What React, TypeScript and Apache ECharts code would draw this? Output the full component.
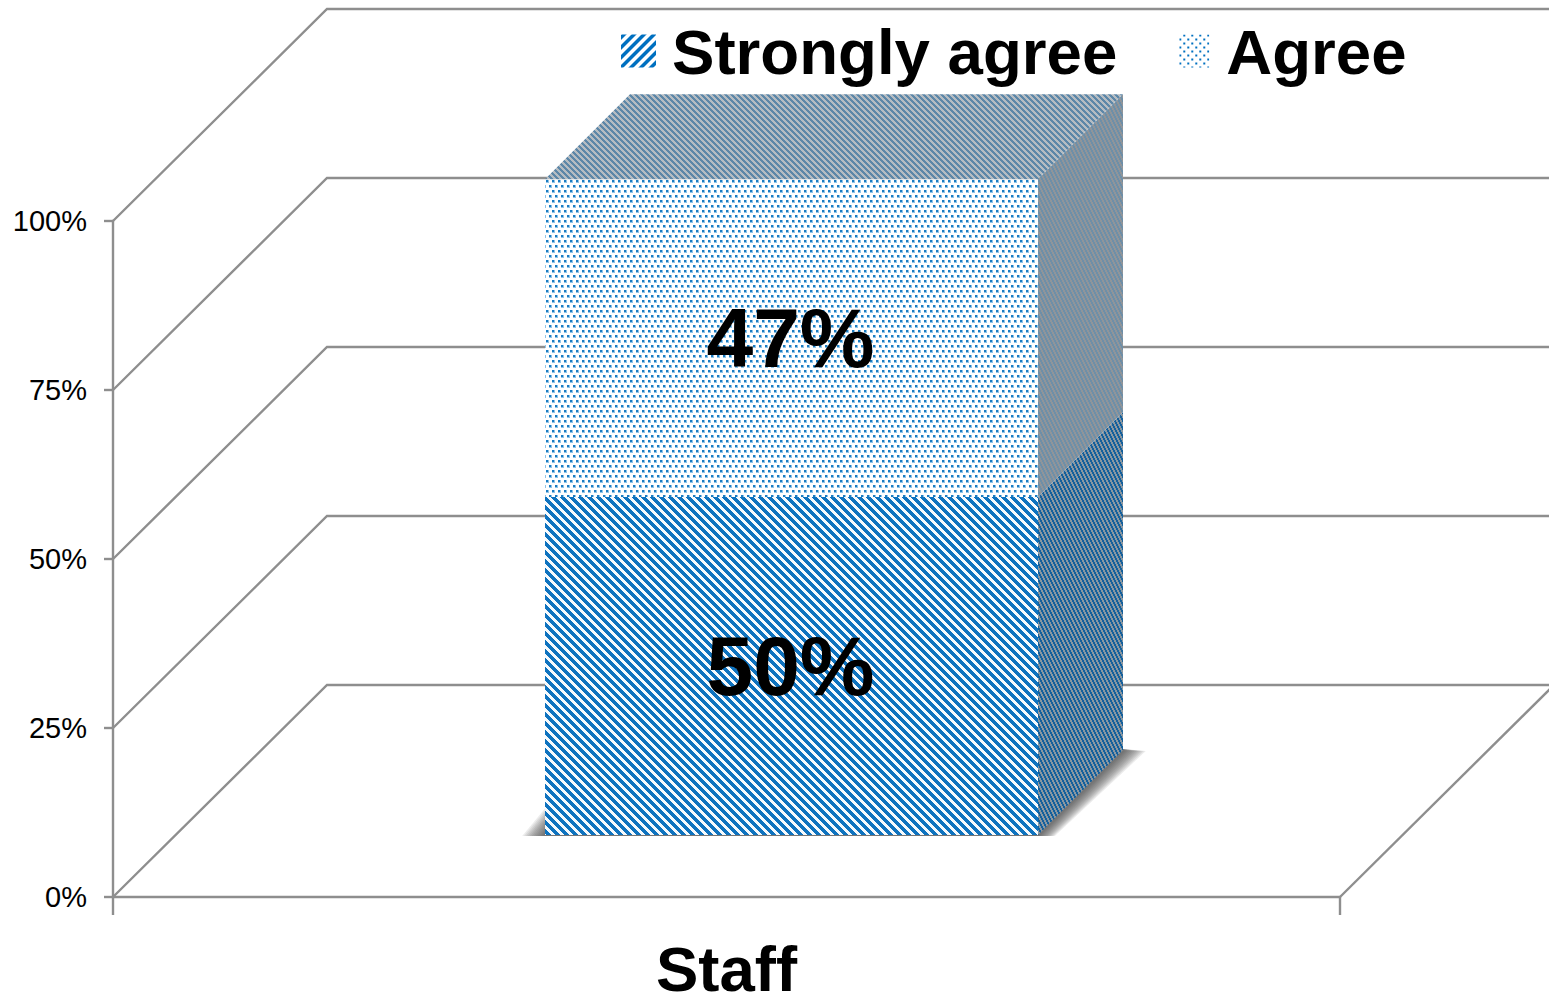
import React, { useEffect, useRef } from "react";
import * as echarts from "echarts";

const categories = ["Staff"];
const stronglyAgree = [50];
const agree = [47];
const seriesNames = ["Strongly agree", "Agree"];
const yTicks = [0, 25, 50, 75, 100];

const FONT = '"Liberation Sans", Arial, sans-serif';
const LINE = "#8e8e8e";
const WALL_DX = 214;
const WALL_DY = 212;
const BAR_SHIFT_X = 65;
const BAR_SHIFT_Y = 62;
const BAR_HALF = 246.5;
const BAR_DX = 85;
const BAR_DY = 85;
const SHADOW_LAYERS = 12;

function tile(w: number, h: number, bg: string, paint: (g: CanvasRenderingContext2D) => void) {
  const c = document.createElement("canvas");
  c.width = w;
  c.height = h;
  const g = c.getContext("2d")!;
  g.fillStyle = bg;
  g.fillRect(0, 0, w, h);
  paint(g);
  return { image: c, repeat: "repeat" } as any;
}

function stripes(period: number, on: number, fg: string, bg: string, rising: boolean) {
  return tile(period, period, bg, (g) => {
    g.fillStyle = fg;
    for (let y = 0; y < period; y++) {
      for (let x = 0; x < period; x++) {
        const k = rising ? x + y : x - y + period;
        if (k % period < on) g.fillRect(x, y, 1, 1);
      }
    }
  });
}

function steep(w: number, h: number, fg: string, bg: string) {
  return tile(w, h, bg, (g) => {
    g.fillStyle = fg;
    for (let y = 0; y < h; y++) {
      const x = Math.floor((y * w) / h);
      g.fillRect(x, y, Math.ceil(w / 2), 1);
      if (x + Math.ceil(w / 2) > w) g.fillRect(0, y, x + Math.ceil(w / 2) - w, 1);
    }
  });
}

function dots(w: number, h: number, size: number, fg: string, bg: string, halo?: string) {
  return tile(w, h, bg, (g) => {
    const pts = [
      [0, 0],
      [w / 2, h / 2],
    ];
    if (halo) {
      g.fillStyle = halo;
      pts.forEach(([x, y]) => g.fillRect(x, y, size + 1, size + 1));
    }
    g.fillStyle = fg;
    pts.forEach(([x, y]) => g.fillRect(x, y, size, size));
  });
}

function App() {
  const ref = useRef<HTMLDivElement>(null);
  useEffect(() => {
    document.body.style.margin = "0";
    const chart = echarts.init(ref.current!, undefined, { renderer: "svg" });

    const hatchFront = stripes(9, 5, "#0f73bf", "#f6fafd", false);
    const hatchSide = steep(4, 8, "#15609c", "#8a97a1");
    const dotFront = dots(6, 10, 2, "#1a7cc2", "#ffffff", "#8fc4e8");
    const dotSide = steep(4, 8, "#6e8fa8", "#90959a");
    const dotTop = stripes(6, 3, "#5d87a8", "#b5bcc2", false);
    const legendHatch = stripes(10, 5, "#0070c0", "#ffffff", true);
    const legendDots = dots(8, 8, 2, "#0070c0", "#ffffff");

    const bases = [0, stronglyAgree[0]];
    const fills = [
      { front: hatchFront, side: hatchSide, top: hatchSide },
      { front: dotFront, side: dotSide, top: dotTop },
    ];

    const wallItem = (_p: any, api: any) => {
      const v = api.value(1);
      const [cx, y] = api.coord([0, v]);
      const half = api.size([1, 0])[0] / 2;
      const x0 = cx - half;
      const x1 = cx + half;
      const children: any[] = [
        {
          type: "polyline",
          shape: {
            points: [
              [x0, y],
              [x0 + WALL_DX, y - WALL_DY],
              [x1 + WALL_DX + 40, y - WALL_DY],
            ],
          },
          style: { stroke: LINE, lineWidth: 2.4, fill: "none" },
        },
      ];
      if (v === 0) {
        children.push({
          type: "line",
          shape: { x1, y1: y, x2: x1 + WALL_DX, y2: y - WALL_DY },
          style: { stroke: LINE, lineWidth: 2.4 },
        });
      }
      return { type: "group", children };
    };

    const shadowItem = (_p: any, api: any) => {
      const [cx, y] = api.coord([0, 0]);
      const l = cx + BAR_SHIFT_X - BAR_HALF;
      const r = cx + BAR_SHIFT_X + BAR_HALF;
      const b = y - BAR_SHIFT_Y;
      const children: any[] = [];
      for (let i = SHADOW_LAYERS; i >= 1; i--) {
        children.push({
          type: "polygon",
          shape: {
            points: [
              [l - 1.9 * i, b + 1],
              [l, b - 2.2 * i],
              [r + BAR_DX, b - BAR_DY - 1],
              [r + BAR_DX + 1.9 * i, b - BAR_DY + 1],
              [r + 1.4 * i, b + 1],
            ],
          },
          style: { fill: "rgba(70,70,70,0.1)" },
        });
      }
      return { type: "group", children };
    };

    const barItem = (idx: number) => (_p: any, api: any) => {
      const value = api.value(1);
      const [cx, yb] = api.coord([0, bases[idx]]);
      const [, yt] = api.coord([0, bases[idx] + value]);
      const l = cx + BAR_SHIFT_X - BAR_HALF;
      const r = cx + BAR_SHIFT_X + BAR_HALF;
      const b = yb - BAR_SHIFT_Y;
      const t = yt - BAR_SHIFT_Y;
      const f = fills[idx];
      const children: any[] = [
        {
          type: "polygon",
          shape: { points: [[r, b], [r + BAR_DX, b - BAR_DY], [r + BAR_DX, t - BAR_DY], [r, t]] },
          style: { fill: f.side },
        },
        {
          type: "rect",
          shape: { x: l, y: t, width: r - l, height: b - t },
          style: { fill: f.front },
        },
      ];
      if (idx === 1) {
        children.push({
          type: "polygon",
          shape: { points: [[l, t], [l + BAR_DX, t - BAR_DY], [r + BAR_DX, t - BAR_DY], [r, t]] },
          style: { fill: f.top },
        });
      }
      children.push({
        type: "text",
        style: {
          text: `${value}%`,
          x: (l + r) / 2 - 1,
          y: (t + b) / 2,
          align: "center",
          verticalAlign: "middle",
          fontFamily: FONT,
          fontWeight: "bold",
          fontSize: 84,
          fill: "#000",
        },
      });
      return { type: "group", children };
    };

    chart.setOption({
      animation: false,
      backgroundColor: "#fff",
      grid: { left: 113, right: 209, top: 221, bottom: 102, outerBoundsMode: "none" },
      legend: {
        left: 621,
        top: 19,
        padding: 0,
        itemWidth: 35,
        itemHeight: 33,
        itemGap: 58,
        selectedMode: false,
        textStyle: {
          fontFamily: FONT,
          fontWeight: "bold",
          fontSize: 63.6,
          color: "#000",
          padding: [0, 0, 3, 11],
        },
        data: [
          { name: seriesNames[0], icon: "rect", itemStyle: { color: legendHatch, borderWidth: 0 } },
          {
            name: seriesNames[1],
            icon: "path://M0,0L0,0M4,0H34V33H4ZM35,33L35,33",
            itemStyle: { color: legendDots, borderWidth: 0 },
          },
        ],
      },
      xAxis: {
        type: "category",
        data: categories,
        axisLine: { lineStyle: { color: LINE, width: 2.4 } },
        axisTick: { show: true, length: 18, alignWithLabel: false, lineStyle: { color: LINE, width: 2.4 } },
        axisLabel: {
          margin: 47,
          lineHeight: 50,
          fontFamily: FONT,
          fontWeight: "bold",
          fontSize: 63.5,
          color: "#000",
        },
      },
      yAxis: {
        type: "value",
        min: 0,
        max: 100,
        interval: 25,
        splitLine: { show: false },
        axisLine: { show: true, lineStyle: { color: LINE, width: 2.4 } },
        axisTick: { show: true, length: 9, lineStyle: { color: LINE, width: 2.4 } },
        axisLabel: {
          margin: 26,
          padding: [2, 0, 0, 0],
          formatter: "{value}%",
          fontFamily: FONT,
          fontSize: 29,
          color: "#000",
        },
      },
      series: [
        {
          type: "custom",
          silent: true,
          z: 1,
          encode: { x: 0, y: 1 },
          renderItem: wallItem,
          data: yTicks.map((v) => [0, v]),
        },
        {
          type: "custom",
          silent: true,
          z: 2,
          encode: { x: 0, y: 1 },
          renderItem: shadowItem,
          data: [[0, 0]],
        },
        {
          type: "custom",
          name: seriesNames[0],
          z: 3,
          itemStyle: { color: "#0070c0" },
          encode: { x: 0, y: 1 },
          renderItem: barItem(0),
          data: stronglyAgree.map((v, i) => [i, v]),
        },
        {
          type: "custom",
          name: seriesNames[1],
          z: 4,
          itemStyle: { color: "#5aa5d8" },
          encode: { x: 0, y: 1 },
          renderItem: barItem(1),
          data: agree.map((v, i) => [i, v]),
        },
      ],
    });
    return () => chart.dispose();
  }, []);
  return <div ref={ref} style={{ width: 1549, height: 999 }} />;
}

export default App;
